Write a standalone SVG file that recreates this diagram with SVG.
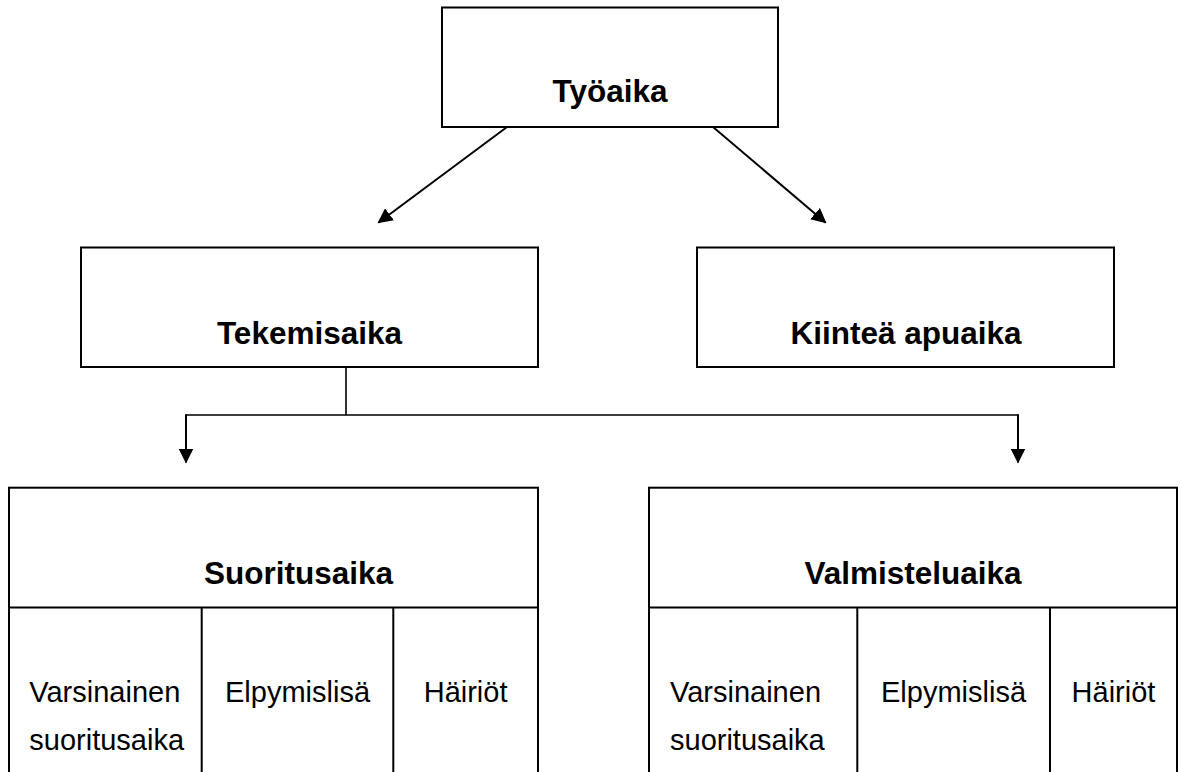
<svg xmlns="http://www.w3.org/2000/svg" width="1181" height="772" viewBox="0 0 1181 772">
<defs>
<style>
.box{fill:#fff;stroke:#000;stroke-width:2}
.div{fill:none;stroke:#000;stroke-width:2}
.title{font-family:"Liberation Sans",Arial,sans-serif;font-weight:bold;font-size:31.5px;fill:#000}
.sub{font-family:"Liberation Sans",Arial,sans-serif;font-size:29px;fill:#000}
.conn{fill:none;stroke:#000;stroke-width:2}
.thin{fill:none;stroke:#000;stroke-width:1.6}
</style>
<marker id="ah" viewBox="0 0 15 15" refX="14" refY="7.5" markerUnits="userSpaceOnUse" markerWidth="15" markerHeight="15" orient="auto">
<path d="M0,0 L15,7.5 L0,15 Z" fill="#000"/>
</marker>
</defs>
<rect width="1181" height="772" fill="#fff"/>
<g id="tyoaika">
<rect class="box" x="442" y="7.5" width="336" height="119.5"/>
<text class="title" x="610" y="102" text-anchor="middle">Työaika</text>
</g>
<g id="tekemisaika">
<rect class="box" x="81" y="247.5" width="457" height="119.5"/>
<text class="title" x="309.5" y="344" text-anchor="middle">Tekemisaika</text>
</g>
<g id="kiintea">
<rect class="box" x="697" y="247.5" width="417" height="119.5"/>
<text class="title" x="906" y="344" text-anchor="middle">Kiinteä apuaika</text>
</g>
<g id="suoritusaika">
<rect class="box" x="9" y="487.7" width="529" height="310"/>
<path class="div" d="M9,607.5 H538 M201.7,607.5 V800 M393.3,607.5 V800"/>
<text class="title" x="204" y="584">Suoritusaika</text>
<text class="sub" x="29.3" y="701.7">Varsinainen</text>
<text class="sub" x="29.3" y="750">suoritusaika</text>
<text class="sub" x="297.5" y="701.7" text-anchor="middle">Elpymislisä</text>
<text class="sub" x="465.6" y="701.7" text-anchor="middle">Häiriöt</text>
</g>
<g id="valmisteluaika">
<rect class="box" x="649" y="487.7" width="528" height="310"/>
<path class="div" d="M649,607.5 H1177 M857.3,607.5 V800 M1050,607.5 V800"/>
<text class="title" x="913" y="584" text-anchor="middle">Valmisteluaika</text>
<text class="sub" x="670" y="701.7">Varsinainen</text>
<text class="sub" x="670" y="750">suoritusaika</text>
<text class="sub" x="953.5" y="701.7" text-anchor="middle">Elpymislisä</text>
<text class="sub" x="1113.5" y="701.7" text-anchor="middle">Häiriöt</text>
</g>
<g id="connectors">
<line class="conn" x1="507" y1="127" x2="378.3" y2="222.7" marker-end="url(#ah)"/>
<line class="conn" x1="713" y1="127" x2="825.7" y2="222.7" marker-end="url(#ah)"/>
<path class="thin" d="M346,367 V415 M186,415 H1018"/>
<line class="conn" x1="186" y1="414.2" x2="186" y2="462.5" marker-end="url(#ah)"/>
<line class="conn" x1="1018" y1="414.2" x2="1018" y2="462.5" marker-end="url(#ah)"/>
</g>
</svg>
